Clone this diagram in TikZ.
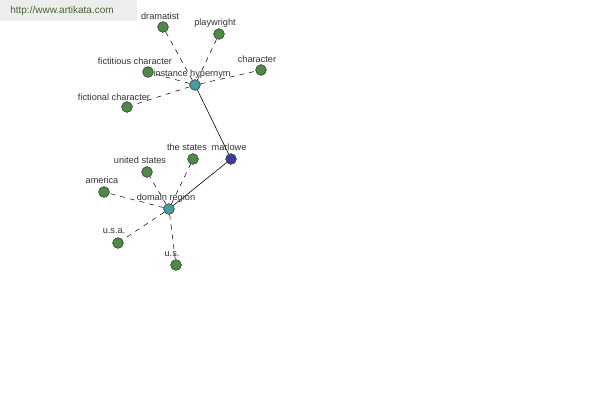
\documentclass[tikz,border=0pt]{standalone}
\usepackage{fontspec}
\setmainfont{Liberation Sans}
\definecolor{wmtext}{RGB}{70,100,50}
\definecolor{leafc}{RGB}{74,140,64}
\definecolor{hubc}{RGB}{64,160,160}
\definecolor{rootc}{RGB}{60,60,160}
\begin{document}
\begin{tikzpicture}[x=1pt,y=-1pt,
  leaf/.style={circle,draw=black!70,fill=leafc,minimum size=10.5pt,inner sep=0pt,line width=0.6pt},
  hub/.style={circle,draw=black!70,fill=hubc,minimum size=10.5pt,inner sep=0pt,line width=0.6pt},
  root/.style={circle,draw=black!70,fill=rootc,minimum size=10.5pt,inner sep=0pt,line width=0.6pt},
  lbl/.style={font=\fontsize{9.2}{10}\selectfont,text=black!80,inner sep=0pt},
  dedge/.style={dashed,dash pattern=on 5pt off 5pt,line width=0.5pt},
  sedge/.style={line width=0.6pt}]
\useasboundingbox (0,0) rectangle (600,400);
\fill[black!7] (0,0) rectangle (137,21);
\node[font=\fontsize{10}{11}\selectfont,text=wmtext] (wm) at (62,11) {http://www.artikata.com};
% nodes
\node[hub] (ih) at (195,85) {};
\node[hub] (dr) at (169,209) {};
\node[root] (ma) at (231,159) {};
\node[leaf] (dra) at (163,27) {};
\node[leaf] (pw) at (219,34) {};
\node[leaf] (fic) at (148,72) {};
\node[leaf] (ch) at (261,70) {};
\node[leaf] (fc) at (127,107) {};
\node[leaf] (ts) at (193,159) {};
\node[leaf] (us) at (147,172) {};
\node[leaf] (am) at (104,192) {};
\node[leaf] (usa) at (118,243) {};
\node[leaf] (u) at (176,265) {};
% edges
\foreach \n in {dra,pw,fic,ch,fc} \draw[dedge] (ih) -- (\n);
\foreach \n in {ts,us,am,usa,u} \draw[dedge] (dr) -- (\n);
\draw[sedge] (ih) -- (ma);
\draw[sedge] (ma) -- (dr);
% redraw nodes on top
\foreach \n in {ih,dr} \node[hub] at (\n) {};
\node[root] at (ma) {};
\foreach \n in {dra,pw,fic,ch,fc,ts,us,am,usa,u} \node[leaf] at (\n) {};
% labels
\node[lbl] (l1) at (160,16) {dramatist};
\node[lbl] (l2) at (215,23) {playwright};
\node[lbl] (l3) at (135,61) {fictitious character};
\node[lbl] (l4) at (257,59) {character};
\node[lbl] (l5) at (192,74) {instance hypernym};
\node[lbl] (l6) at (114,97) {fictional character};
\node[lbl] (l7) at (229,147) {marlowe};
\node[lbl] (l8) at (187,147) {the states};
\node[lbl] (l9) at (140,160) {united states};
\node[lbl] (l10) at (102,180) {america};
\node[lbl] (l11) at (166,198) {domain region};
\node[lbl] (l12) at (114,231) {u.s.a.};
\node[lbl] (l13) at (172,254) {u.s.};
\end{tikzpicture}
\end{document}
